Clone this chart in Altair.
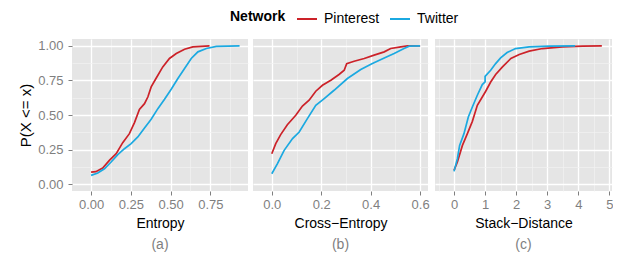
import altair as alt
import pandas as pd

RED = "#cc2229"
BLUE = "#1ba9e1"
FONT = "Liberation Sans"

networks = ["Pinterest", "Twitter"]

# Panel (a): Entropy ECDF
entropy_pin_x = [0.0, 0.03, 0.073, 0.115, 0.158, 0.199, 0.241, 0.273, 0.304, 0.336, 0.357, 0.378, 0.41, 0.451, 0.493, 0.536, 0.588, 0.64, 0.745]
entropy_pin_y = [0.087, 0.09, 0.116, 0.172, 0.22, 0.30, 0.365, 0.445, 0.541, 0.582, 0.63, 0.703, 0.768, 0.848, 0.909, 0.945, 0.976, 0.993, 1.0]
entropy_tw_x = [0.0, 0.042, 0.084, 0.126, 0.168, 0.21, 0.252, 0.294, 0.336, 0.378, 0.42, 0.462, 0.504, 0.546, 0.588, 0.63, 0.672, 0.725, 0.788, 0.934]
entropy_tw_y = [0.063, 0.08, 0.111, 0.16, 0.213, 0.256, 0.293, 0.341, 0.406, 0.469, 0.546, 0.614, 0.686, 0.764, 0.836, 0.909, 0.957, 0.981, 0.996, 1.0]

# Panel (b): Cross-Entropy ECDF
cross_pin_x = [0.0, 0.016, 0.036, 0.063, 0.097, 0.124, 0.151, 0.178, 0.205, 0.239, 0.272, 0.293, 0.303, 0.333, 0.374, 0.414, 0.455, 0.481, 0.522, 0.549, 0.6]
cross_pin_y = [0.22, 0.293, 0.358, 0.43, 0.498, 0.565, 0.607, 0.672, 0.715, 0.751, 0.793, 0.824, 0.872, 0.889, 0.909, 0.933, 0.957, 0.981, 0.993, 1.0, 1.0]
cross_tw_x = [0.0, 0.023, 0.05, 0.084, 0.111, 0.144, 0.178, 0.212, 0.252, 0.306, 0.36, 0.407, 0.455, 0.495, 0.535, 0.556, 0.6]
cross_tw_y = [0.075, 0.148, 0.244, 0.329, 0.377, 0.474, 0.57, 0.619, 0.679, 0.764, 0.829, 0.872, 0.913, 0.945, 0.981, 0.998, 1.0]

# Panel (c): Stack-Distance ECDF
stack_pin_x = [0.0, 0.108, 0.27, 0.43, 0.59, 0.75, 0.91, 1.02, 1.18, 1.34, 1.56, 1.83, 2.1, 2.42, 2.85, 3.49, 4.14, 4.76]
stack_pin_y = [0.099, 0.16, 0.28, 0.365, 0.454, 0.57, 0.63, 0.672, 0.739, 0.793, 0.848, 0.909, 0.938, 0.962, 0.981, 0.993, 0.998, 1.0]
stack_tw_x = [0.0, 0.108, 0.18, 0.32, 0.46, 0.59, 0.75, 0.91, 1.0, 1.0, 1.18, 1.34, 1.5, 1.71, 1.98, 2.42, 3.06, 3.9]
stack_tw_y = [0.092, 0.184, 0.28, 0.365, 0.486, 0.558, 0.643, 0.72, 0.739, 0.78, 0.824, 0.872, 0.913, 0.952, 0.981, 0.993, 0.998, 1.0]

y_major = [0.0, 0.25, 0.5, 0.75, 1.0]
y_minor = [0.125, 0.375, 0.625, 0.875]


def frame(px, py, tx, ty):
    rows = [{"net": "Pinterest", "x": a, "y": b, "i": i} for i, (a, b) in enumerate(zip(px, py))]
    rows += [{"net": "Twitter", "x": a, "y": b, "i": i} for i, (a, b) in enumerate(zip(tx, ty))]
    return pd.DataFrame(rows)


legend = alt.Legend(
    orient="none", legendX=158, legendY=-31, direction="horizontal",
    title="Network", titleOrient="left", titleFontWeight="bold", titleFontSize=14,
    titleColor="black", titleFont=FONT, titlePadding=10,
    labelFontSize=14, labelFont=FONT, labelColor="black", labelOffset=6,
    symbolType="stroke", symbolStrokeWidth=2, symbolSize=400, columnPadding=6,
)


def panel(df, domain, major, minor, fmt, title, sub, width, show_y):
    xs = alt.Scale(domain=domain, nice=False, zero=False)
    ys = alt.Scale(domain=[-0.05, 1.05], nice=False, zero=False)
    base = alt.Chart(df)
    minor_layer = base.mark_line(strokeOpacity=0).encode(
        x=alt.X("x:Q", scale=xs, axis=alt.Axis(orient="top", values=minor, labels=False, ticks=False,
                                               domain=False, grid=True, gridColor="#f2f2f2",
                                               gridWidth=0.7, title=None)),
        y=alt.Y("y:Q", scale=ys, axis=alt.Axis(orient="right", values=y_minor, labels=False, ticks=False,
                                               domain=False, grid=True, gridColor="#f2f2f2",
                                               gridWidth=0.7, title=None)),
        detail="net:N", order="i:Q",
    )
    if show_y:
        yaxis = alt.Axis(values=y_major, format=".2f", title="P(X <= x)", grid=True, gridColor="white",
                         gridWidth=1.3, domain=False, tickColor="#7f7f7f", tickSize=4, labelPadding=5,
                         labelColor="#7f7f7f", labelFontSize=13, labelFont=FONT, titleFont=FONT,
                         titleFontSize=15, titleFontWeight="normal", titleColor="black", titlePadding=4)
    else:
        yaxis = alt.Axis(values=y_major, labels=False, ticks=False, domain=False, title=None, grid=True,
                         gridColor="white", gridWidth=1.3)
    main = base.mark_line(strokeWidth=1.7).encode(
        x=alt.X("x:Q", scale=xs, axis=alt.Axis(values=major, format=fmt, title=title, grid=True,
                                               gridColor="white", gridWidth=1.3, domain=False,
                                               tickColor="#7f7f7f", tickSize=4, labelPadding=3,
                                               labelColor="#7f7f7f", labelFontSize=13, labelFont=FONT,
                                               titleFont=FONT, titleFontSize=14, titleFontWeight="normal",
                                               titleColor="black", titlePadding=5)),
        y=alt.Y("y:Q", scale=ys, axis=yaxis),
        color=alt.Color("net:N", scale=alt.Scale(domain=networks, range=[RED, BLUE]), legend=legend),
        order="i:Q",
    )
    return alt.layer(minor_layer, main).resolve_axis(x="independent", y="independent").properties(
        width=width, height=152,
        title=alt.TitleParams(sub, orient="bottom", fontSize=14, font=FONT, color="#7f7f7f",
                              fontWeight="normal", offset=8),
    )


p1 = panel(frame(entropy_pin_x, entropy_pin_y, entropy_tw_x, entropy_tw_y), [-0.12, 0.987],
           [0.0, 0.25, 0.5, 0.75], [0.125, 0.375, 0.625, 0.875], ".2f", "Entropy", "(a)", 176, True)
p2 = panel(frame(cross_pin_x, cross_pin_y, cross_tw_x, cross_tw_y), [-0.076, 0.632],
           [0.0, 0.2, 0.4, 0.6], [0.1, 0.3, 0.5], ".1f", "Cross\u2212Entropy", "(b)", 175, False)
p3 = panel(frame(stack_pin_x, stack_pin_y, stack_tw_x, stack_tw_y), [-0.613, 5.087],
           [0, 1, 2, 3, 4, 5], [-0.5, 0.5, 1.5, 2.5, 3.5, 4.5], "d", "Stack\u2212Distance", "(c)", 177, False)

chart = alt.hconcat(p1, p2, p3, spacing=5).properties(
    padding={"left": 10, "top": 0, "right": 0, "bottom": 0},
    background="white",
).configure_view(fill="#e5e5e5", stroke=None)

chart.save("out.html", embed_options={"renderer": "svg", "actions": False})
